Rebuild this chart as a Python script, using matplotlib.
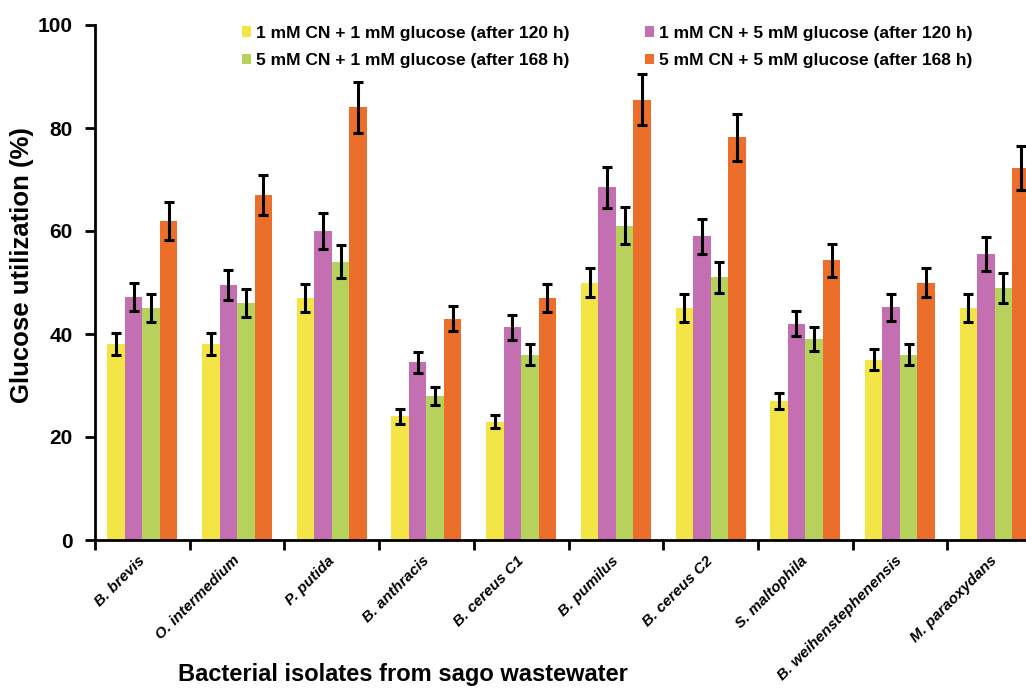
import numpy as np
import matplotlib
matplotlib.use("Agg")
import matplotlib.pyplot as plt

# data
isolates = ["B. brevis", "O. intermedium", "P. putida", "B. anthracis", "B. cereus C1",
            "B. pumilus", "B. cereus C2", "S. maltophila", "B. weihenstephenensis", "M. paraoxydans"]
name_11 = "1 mM CN + 1 mM glucose (after 120 h)"
name_15 = "1 mM CN + 5 mM glucose (after 120 h)"
name_51 = "5 mM CN + 1 mM glucose (after 168 h)"
name_55 = "5 mM CN + 5 mM glucose (after 168 h)"
cn1_glu1 = [38, 38, 47, 24, 23, 50, 45, 27, 35, 45]
cn1_glu5 = [47.2, 49.5, 60, 34.5, 41.3, 68.5, 59, 42, 45.2, 55.5]
cn5_glu1 = [45, 46, 54, 28, 36, 61, 51, 39, 36, 49]
cn5_glu5 = [62, 67, 84, 43, 47, 85.5, 78.2, 54.3, 50, 72.3]
err_11 = [2.1, 2.1, 2.8, 1.4, 1.3, 2.9, 2.7, 1.6, 2.0, 2.7]
err_15 = [2.8, 2.9, 3.5, 2.0, 2.4, 4.0, 3.4, 2.4, 2.6, 3.3]
err_51 = [2.7, 2.7, 3.2, 1.7, 2.1, 3.6, 3.0, 2.3, 2.1, 2.9]
err_55 = [3.7, 3.9, 4.9, 2.5, 2.8, 5.0, 4.6, 3.2, 2.9, 4.3]

yellow, purple, green, orange = "#F4E547", "#C36FB1", "#B6D15C", "#EB6E2B"

plt.rcParams["font.family"] = ["Liberation Sans", "DejaVu Sans"]

fig = plt.figure(figsize=(10.26, 6.89), dpi=100)
# axes run past the right edge like the original crop
ax = fig.add_axes([95 / 1026, 1 - 540 / 689, 947 / 1026, 515 / 689])

x = np.arange(len(isolates))
w = 0.185
# bar order in each group: yellow, purple, green, orange
groups = [(cn1_glu1, err_11, yellow, name_11),
          (cn1_glu5, err_15, purple, name_15),
          (cn5_glu1, err_51, green, name_51),
          (cn5_glu5, err_55, orange, name_55)]
bars = []
for i, (vals, errs, col, name) in enumerate(groups):
    b = ax.bar(x + (i - 1.5) * w, vals, w, color=col, label=name,
               yerr=errs, error_kw=dict(ecolor="black", elinewidth=2.2, capsize=3.5, capthick=2.2))
    bars.append(b)

ax.set_xlim(-0.5, len(isolates) - 0.5)
ax.set_ylim(0, 100)
ax.set_yticks([0, 20, 40, 60, 80, 100])
ax.set_xticks(np.arange(len(isolates) + 1) - 0.5)
ax.set_xticklabels([])
ax.tick_params(axis="both", direction="out", width=2, length=7, color="black")
ax.tick_params(axis="y", labelsize=15, pad=9)
for lab in ax.get_yticklabels():
    lab.set_fontweight("bold")
for s in ["top", "right"]:
    ax.spines[s].set_visible(False)
for s in ["left", "bottom"]:
    ax.spines[s].set_linewidth(2)

for xi, name in zip(x, isolates):
    ax.text(xi - 0.05, -2.6, name, rotation=45, ha="right", va="top", rotation_mode="anchor",
            fontsize=11, style="italic", fontweight="bold")

fig.text(22 / 1026, 1 - 265 / 689, "Glucose utilization (%)", rotation=90,
         ha="center", va="center", fontsize=18.5, fontweight="bold")
fig.text(403 / 1026, 1 - 674 / 689, "Bacterial isolates from sago wastewater",
         ha="center", va="center", fontsize=17, fontweight="bold")

# legend fills column-wise: yellow, green | purple, orange
fig.legend([bars[0], bars[2], bars[1], bars[3]], [name_11, name_51, name_15, name_55],
           loc="upper left", bbox_to_anchor=(226 / 1026, 1 - 10 / 689), ncol=2,
           frameon=False, handlelength=0.55, handleheight=0.55, handletextpad=0.3,
           columnspacing=4.3, labelspacing=0.72, prop=dict(size=12.5, weight="bold"))

fig.savefig("out.png", dpi=100)
